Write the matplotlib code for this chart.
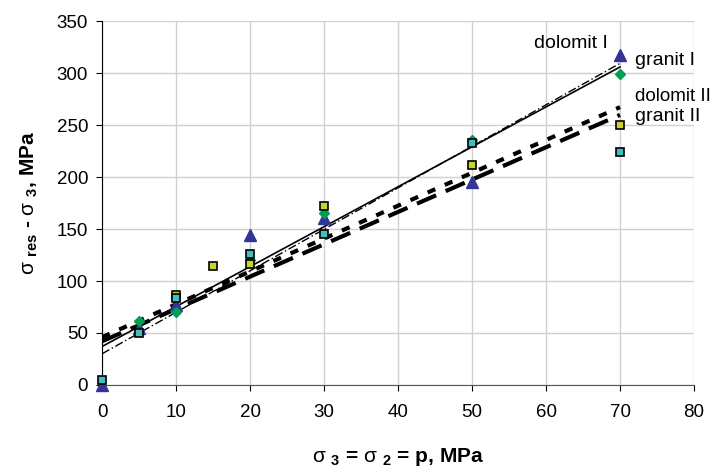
import matplotlib
matplotlib.use("Agg")
import matplotlib.pyplot as plt
import numpy as np

plt.rcParams['font.family'] = ['Liberation Sans', 'DejaVu Sans']
plt.rcParams['mathtext.fontset'] = 'custom'
plt.rcParams['mathtext.rm'] = 'Liberation Sans'
plt.rcParams['mathtext.bf'] = 'Liberation Sans:bold'

# measured points
x_dol1 = [0, 5, 10, 20, 30, 50, 70]
y_dol1 = [0, 55, 77, 144, 161, 195, 317]
x_gra1 = [5, 10, 20, 30, 50, 70]
y_gra1 = [62, 70, 120, 165, 236, 299]
x_dol2 = [10, 15, 20, 30, 50, 70]
y_dol2 = [87, 114, 116, 172, 212, 250]
x_gra2 = [0, 5, 10, 20, 30, 50, 70]
y_gra2 = [5, 50, 84, 126, 145, 233, 224]

# trend lines (slope, intercept)
fit_dol1 = (3.99, 30)
fit_gra1 = (3.84, 37)
fit_dol2 = (3.16, 46)
fit_gra2 = (3.11, 42)

labels = ['dolomit I', 'granit I', 'dolomit II', 'granit II']

fig = plt.figure(figsize=(7.16, 4.67), dpi=100)
ax = fig.add_axes([0.1425, 0.1756, 0.8268, 0.7794])

xs = np.array([0, 70])
ax.plot(xs, fit_dol1[0] * xs + fit_dol1[1], color='black', lw=1.0, ls=(0, (6, 2, 1, 2)), zorder=3)
ax.plot(xs, fit_gra1[0] * xs + fit_gra1[1], color='black', lw=1.2, ls='-', zorder=3)
ax.plot(xs, fit_dol2[0] * xs + fit_dol2[1], color='black', lw=3.0, ls=(0, (2, 2.5)), zorder=3)
ax.plot(xs, fit_gra2[0] * xs + fit_gra2[1], color='black', lw=3.0, ls=(0, (5, 2.5)), zorder=3)

ax.plot(x_dol1, y_dol1, ls='none', marker='^', ms=8, color='#333399', mec='#333399', zorder=4, clip_on=False)
ax.plot(x_gra1, y_gra1, ls='none', marker='D', ms=5.5, color='#00a050', mec='#00a050', zorder=4, clip_on=False)
ax.plot(x_dol2, y_dol2, ls='none', marker='s', ms=6, color='#c8d42a', mec='black', mew=1.2, zorder=4, clip_on=False)
ax.plot(x_gra2, y_gra2, ls='none', marker='s', ms=6, color='#40c0c0', mec='black', mew=1.2, zorder=4, clip_on=False)

ax.text(63.3, 328, labels[0], fontsize=14, ha='center', va='center')
ax.text(72.0, 312, labels[1], fontsize=14, ha='left', va='center')
ax.text(72.0, 277, labels[2], fontsize=13.5, ha='left', va='center')
ax.text(72.0, 258, labels[3], fontsize=14, ha='left', va='center')

ax.set_xlim(0, 80)
ax.set_ylim(0, 350)
ax.set_xticks(np.arange(0, 81, 10))
ax.set_yticks(np.arange(0, 351, 50))
ax.grid(True, color='#d0d0d0', lw=1)
ax.set_axisbelow(True)
ax.spines['top'].set_visible(False)
ax.spines['right'].set_visible(False)
ax.spines['left'].set_color('black')
ax.spines['bottom'].set_color('#555555')
ax.tick_params(labelsize=13.5, length=4)
ax.tick_params(axis='x', pad=10)
ax.tick_params(axis='y', pad=6)

ax.set_xlabel(r'$\mathrm{σ}$ $_{\bf 3}$ = $\mathrm{σ}$ $_{\bf 2}$ = p, MPa', fontsize=15, fontweight='bold', labelpad=18)
ax.set_ylabel(r'$\mathrm{σ}$ $_{\bf res}$ - $\mathrm{σ}$ $_{\bf 3}$, MPa', fontsize=15, fontweight='bold', labelpad=12)

fig.savefig('out.png', dpi=100)
